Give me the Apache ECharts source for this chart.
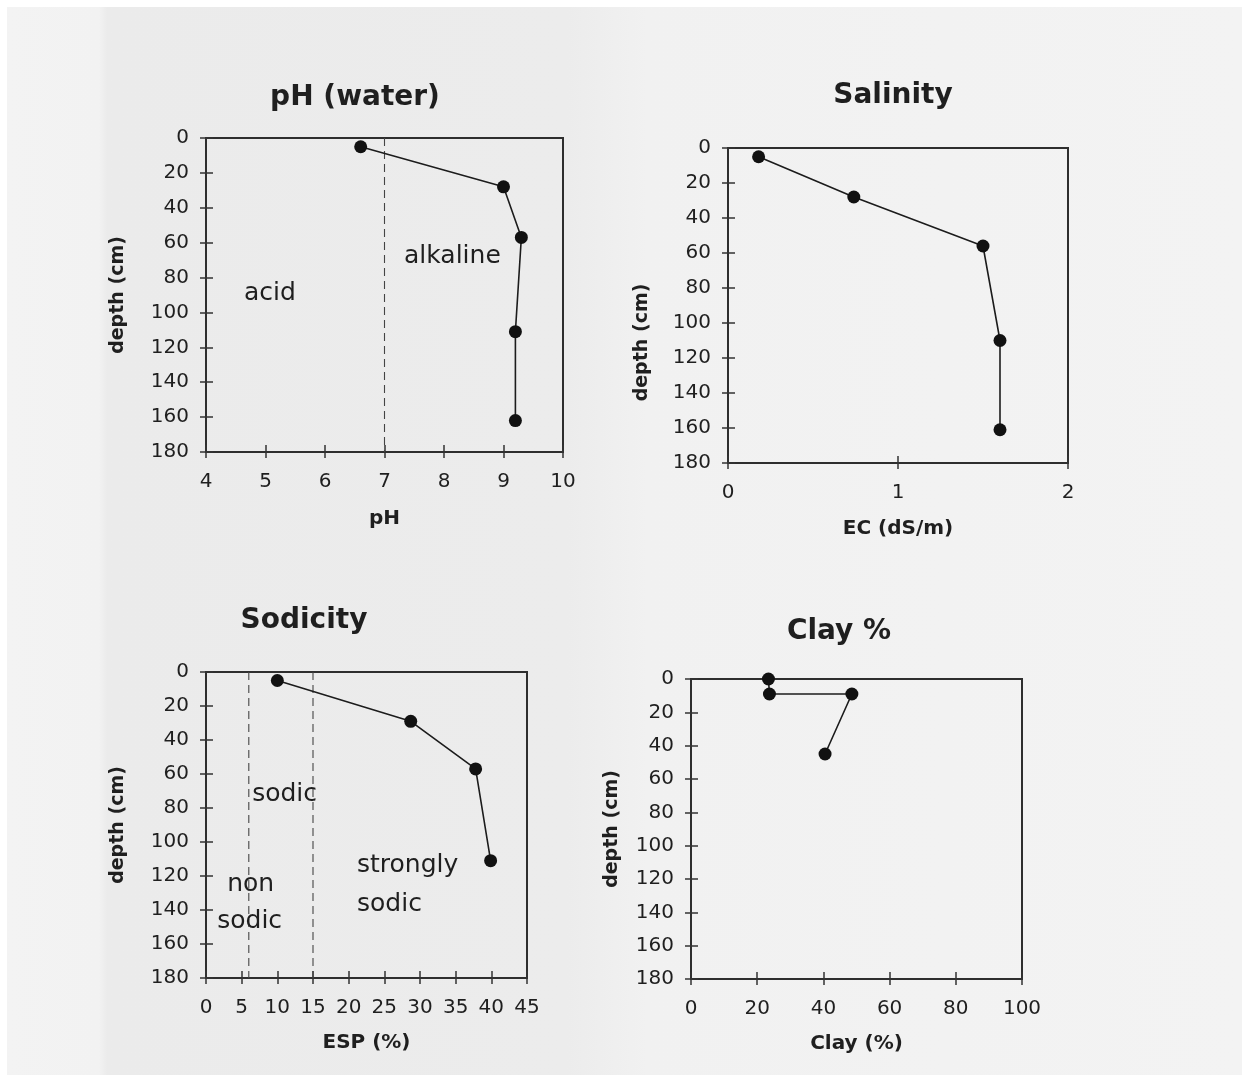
<!DOCTYPE html>
<html>
<head>
<meta charset="utf-8">
<style>
  body { margin: 0; background: #fff; }
  .page {
    position: absolute; left: 7px; top: 7px; width: 1235px; height: 1068px;
    background: linear-gradient(to right, #f3f3f3 0, #f2f2f2 92px, #ebebeb 100px, #ececec 560px, #f1f1f1 640px, #f3f3f3 100%);
  }
  #main { position: absolute; left: 0; top: 0; width: 1242px; height: 1077px; }
</style>
<script src="https://cdn.jsdelivr.net/npm/echarts@6/dist/echarts.min.js"></script>
</head>
<body>
<div class="page"></div>
<div id="main"></div>
<script>
  // soil profile values
  var phDepth = [5, 28, 57, 111, 162]
  var phValue = [6.6, 9.0, 9.3, 9.2, 9.2]

  var ecDepth = [5, 28, 56, 110, 161]
  var ecValue = [0.18, 0.74, 1.5, 1.6, 1.6]

  var espDepth = [5, 29, 57, 111]
  var espValue = [10, 28.7, 37.8, 39.9]

  var clayDepth = [0, 9, 9, 45]
  var clayValue = [23.4, 23.7, 48.6, 40.5]

  // class limits (dashed lines)
  var phLimits = [7]
  var espLimits = [6, 15]

  // zone labels
  var phZoneText = ['acid', 'alkaline']
  var phZoneX = [4.63, 7.32]
  var phZoneDepth = [89, 68]
  var espZoneText = ['sodic', 'non', 'sodic', 'strongly', 'sodic']
  var espZoneX = [6.4, 2.9, 1.5, 21.1, 21.1]
  var espZoneDepth = [72, 125, 147, 114, 137]

  var depthMin = 0
  var depthMax = 180
  var depthStep = 20

  var titles = ['pH (water)', 'Salinity', 'Sodicity', 'Clay %']
  var xNames = ['pH', 'EC (dS/m)', 'ESP (%)', 'Clay (%)']
  var xRange = [[4, 10, 1], [0, 2, 1], [0, 45, 5], [0, 100, 20]]

  var FONT = '"DejaVu Sans", sans-serif'
  var INK = '#1f1f1f'

  var chart = echarts.init(document.getElementById('main'))

  var grids = [
    { left: 206, top: 138, width: 357, height: 314 },
    { left: 728, top: 148, width: 340, height: 315 },
    { left: 206, top: 672, width: 321, height: 306 },
    { left: 691, top: 679, width: 331, height: 300 }
  ]
  grids.forEach(function (g) {
    g.show = true
    g.borderColor = '#2e2e2e'
    g.borderWidth = 2
    g.backgroundColor = 'transparent'
    g.containLabel = false
  })

  var xGaps = [57, 56, 55, 55]
  var yGaps = [78, 76, 78, 69]
  var yPads = [0, 74, 0, 0]
  var titlePos = [[355, 98], [893, 96], [304, 621], [839, 632]]

  var xAxes = []
  var yAxes = []
  for (var i = 0; i < 4; i++) {
    var r = xRange[i]
    xAxes.push({
      gridIndex: i, type: 'value', position: 'bottom',
      min: r[0], max: r[1], interval: r[2],
      name: xNames[i], nameLocation: 'middle', nameGap: xGaps[i],
      nameTextStyle: { fontFamily: FONT, fontWeight: 'bold', fontSize: 20, color: INK },
      axisLine: { onZero: false, lineStyle: { color: '#2e2e2e', width: 2 } },
      axisTick: { inside: false, length: 6, lineStyle: { color: '#333', width: 1.5 } },
      axisLabel: { margin: 20, fontFamily: FONT, fontSize: 20, color: INK },
      splitLine: { show: false }
    })
    xAxes.push({
      gridIndex: i, type: 'value', position: 'bottom',
      min: r[0], max: r[1], interval: r[2],
      axisLine: { show: false, onZero: false },
      axisTick: { inside: true, length: 7, lineStyle: { color: '#333', width: 1.5 } },
      axisLabel: { show: false },
      splitLine: { show: false }
    })
    yAxes.push({
      gridIndex: i, type: 'value', position: 'left', inverse: true,
      min: depthMin, max: depthMax, interval: depthStep,
      name: 'depth (cm)', nameLocation: 'middle', nameGap: yGaps[i],
      nameTextStyle: { fontFamily: FONT, fontWeight: 'bold', fontSize: 19, color: INK, padding: [0, yPads[i], 0, 0] },
      axisLine: { onZero: false, lineStyle: { color: '#2e2e2e', width: 2 } },
      axisTick: { inside: false, length: 6, lineStyle: { color: '#333', width: 1.5 } },
      axisLabel: { margin: 17, fontFamily: FONT, fontSize: 20, color: INK, padding: [0, 0, 5, 0] },
      splitLine: { show: false }
    })
    yAxes.push({
      gridIndex: i, type: 'value', position: 'left', inverse: true,
      min: depthMin, max: depthMax, interval: depthStep,
      axisLine: { show: false, onZero: false },
      axisTick: { inside: true, length: 7, lineStyle: { color: '#333', width: 1.5 } },
      axisLabel: { show: false },
      splitLine: { show: false }
    })
  }

  function pairs (xs, ys) {
    return xs.map(function (x, k) { return [x, ys[k]] })
  }

  function profile (i, xs, ys) {
    return {
      type: 'line', xAxisIndex: 2 * i, yAxisIndex: 2 * i,
      data: pairs(xs, ys), clip: false,
      symbol: 'circle', symbolSize: 13,
      itemStyle: { color: '#111' },
      lineStyle: { color: '#1c1c1c', width: 1.6 },
      z: 5
    }
  }

  function limitLines (i, limits) {
    return limits.map(function (v) {
      return {
        type: 'line', xAxisIndex: 2 * i, yAxisIndex: 2 * i,
        data: [[v, depthMin], [v, depthMax]],
        symbol: 'none',
        lineStyle: { color: '#444', width: 1.1, type: [8, 5] },
        z: 2
      }
    })
  }

  function zoneLabels (i, texts, xs, ys) {
    return {
      type: 'scatter', xAxisIndex: 2 * i, yAxisIndex: 2 * i,
      data: xs.map(function (x, k) { return { value: [x, ys[k]], name: texts[k] } }),
      symbolSize: 1,
      itemStyle: { color: 'rgba(0,0,0,0)' },
      label: {
        show: true, position: 'right', distance: 0, align: 'left', verticalAlign: 'middle',
        formatter: '{b}', fontFamily: FONT, fontSize: 25, color: INK, opacity: 1
      },
      emphasis: { disabled: true },
      silent: true
    }
  }

  var series = []
    .concat(limitLines(0, phLimits))
    .concat(limitLines(2, espLimits))
    .concat([
      profile(0, phValue, phDepth),
      profile(1, ecValue, ecDepth),
      profile(2, espValue, espDepth),
      profile(3, clayValue, clayDepth),
      zoneLabels(0, phZoneText, phZoneX, phZoneDepth),
      zoneLabels(2, espZoneText, espZoneX, espZoneDepth)
    ])

  var graphic = titles.map(function (t, k) {
    return {
      type: 'text', x: titlePos[k][0], y: titlePos[k][1],
      style: {
        text: t, fill: INK,
        font: 'bold 28px ' + FONT,
        textAlign: 'center', align: 'center',
        textVerticalAlign: 'middle', verticalAlign: 'middle'
      }
    }
  })

  chart.setOption({
    backgroundColor: 'transparent',
    animation: false,
    grid: grids,
    xAxis: xAxes,
    yAxis: yAxes,
    series: series,
    graphic: graphic
  })
</script>
</body>
</html>
